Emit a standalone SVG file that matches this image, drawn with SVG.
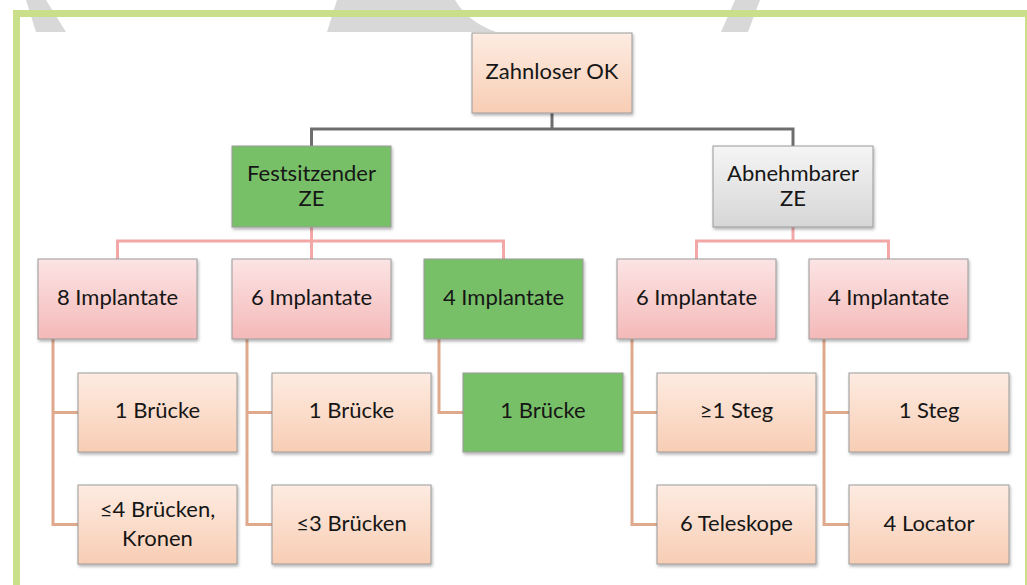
<svg xmlns="http://www.w3.org/2000/svg" width="1027" height="585" viewBox="0 0 1027 585">
<defs>
<linearGradient id="gPeach" x1="0" y1="0" x2="0" y2="1"><stop offset="0" stop-color="#fdece2"/><stop offset="1" stop-color="#f8cdb4"/></linearGradient>
<linearGradient id="gPink" x1="0" y1="0" x2="0" y2="1"><stop offset="0" stop-color="#fce4e4"/><stop offset="1" stop-color="#f4b9b9"/></linearGradient>
<linearGradient id="gGray" x1="0" y1="0" x2="0" y2="1"><stop offset="0" stop-color="#f5f5f5"/><stop offset="1" stop-color="#d6d6d6"/></linearGradient>
<filter id="sh" x="-10%" y="-10%" width="125%" height="130%"><feDropShadow dx="1" dy="2" stdDeviation="1.5" flood-color="#000" flood-opacity="0.3"/></filter>
<style>
.box{stroke:#9a9a9a;stroke-width:1;filter:url(#sh)}
.peach{fill:url(#gPeach)}
.pink{fill:url(#gPink)}
.green{fill:#78c068}
.grayf{fill:url(#gGray)}
text{font-family:Lato,"Liberation Sans",sans-serif;font-size:22px;fill:#161616;text-anchor:middle}
.c1{fill:none;stroke:#6e6e6e;stroke-width:3}
.c2{fill:none;stroke:#f4a7a7;stroke-width:3}
.c3{fill:none;stroke:#dfa98e;stroke-width:3}
</style>
</defs>
<rect width="1027" height="585" fill="#fff"/>
<g id="watermark" fill="#d8d8d8">
<polygon points="26,0 46,0 66,32 36,32"/>
<path d="M337,0 L455,0 Q468,22 496,32 L327,32 Z"/>
<polygon points="735,0 760,0 748,32 721,32"/>
</g>
<rect id="frame" x="16.5" y="13.5" width="1012" height="600" fill="none" stroke="#c9df8a" stroke-width="7"/>
<g id="connectors">
<path class="c1" d="M552,113 V129 M311.5,146 V129 H793 V146"/>
<path class="c2" d="M311.5,227 V241 M117.5,259 V241 H503.5 V259 M311.5,241 V259"/>
<path class="c2" d="M793,227 V241 M696.5,259 V241 H888.5 V259"/>
<path class="c3" d="M53,339 V524.5 H78 M53,412.5 H78"/>
<path class="c3" d="M247,339 V524.5 H272 M247,412.5 H272"/>
<path class="c3" d="M439,339 V412.5 H463"/>
<path class="c3" d="M632,339 V524.5 H657 M632,412.5 H657"/>
<path class="c3" d="M824,339 V524.5 H849 M824,412.5 H849"/>
</g>
<g id="n-zahnloser"><rect class="box peach" x="472" y="33" width="160" height="80"/><text x="552" y="79">Zahnloser OK</text></g>
<g id="n-fest"><rect class="box green" x="232" y="146" width="159" height="81"/><text x="311.5" y="181">Festsitzender</text><text x="311.5" y="206">ZE</text></g>
<g id="n-abn"><rect class="box grayf" x="713" y="146" width="160" height="81"/><text x="793" y="181">Abnehmbarer</text><text x="793" y="206">ZE</text></g>
<g id="n-8impl"><rect class="box pink" x="38" y="259" width="159" height="80"/><text x="117.5" y="305">8 Implantate</text></g>
<g id="n-6impl-f"><rect class="box pink" x="232" y="259" width="159" height="80"/><text x="311.5" y="305">6 Implantate</text></g>
<g id="n-4impl-f"><rect class="box green" x="424" y="259" width="159" height="80"/><text x="503.5" y="305">4 Implantate</text></g>
<g id="n-6impl-a"><rect class="box pink" x="617" y="259" width="159" height="80"/><text x="696.5" y="305">6 Implantate</text></g>
<g id="n-4impl-a"><rect class="box pink" x="809" y="259" width="159" height="80"/><text x="888.5" y="305">4 Implantate</text></g>
<g id="n-8-bruecke"><rect class="box peach" x="78" y="373" width="159" height="79"/><text x="157.5" y="418">1 Brücke</text></g>
<g id="n-8-kronen"><rect class="box peach" x="78" y="485" width="159" height="79"/><text x="157.5" y="517">≤4 Brücken,</text><text x="157.5" y="546">Kronen</text></g>
<g id="n-6-bruecke"><rect class="box peach" x="272" y="373" width="159" height="79"/><text x="351.5" y="418">1 Brücke</text></g>
<g id="n-6-3bruecken"><rect class="box peach" x="272" y="485" width="159" height="79"/><text x="351.5" y="531">≤3 Brücken</text></g>
<g id="n-4-bruecke"><rect class="box green" x="463" y="373" width="160" height="79"/><text x="543" y="418">1 Brücke</text></g>
<g id="n-6a-steg"><rect class="box peach" x="657" y="373" width="159" height="79"/><text x="736.5" y="418">≥1 Steg</text></g>
<g id="n-6a-tele"><rect class="box peach" x="657" y="485" width="159" height="79"/><text x="736.5" y="531">6 Teleskope</text></g>
<g id="n-4a-steg"><rect class="box peach" x="849" y="373" width="160" height="79"/><text x="929" y="418">1 Steg</text></g>
<g id="n-4a-locator"><rect class="box peach" x="849" y="485" width="160" height="79"/><text x="929" y="531">4 Locator</text></g>
</svg>
